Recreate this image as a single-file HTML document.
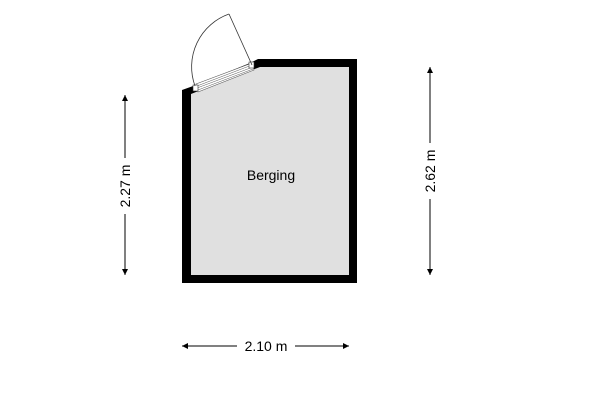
<!DOCTYPE html>
<html><head><style>html,body{margin:0;background:#fff}</style></head><body>
<svg width="600" height="400" viewBox="0 0 600 400" xmlns="http://www.w3.org/2000/svg" font-family="Liberation Sans, sans-serif">
<defs><marker id="a" viewBox="0 0 10 10" refX="10" refY="5" markerWidth="8" markerHeight="6" orient="auto-start-reverse" markerUnits="userSpaceOnUse"><path d="M0,0L10,5L0,10z" fill="#000"/></marker></defs>
<polygon points="182,283 357,283 357,59 258,59 250,63 196,85 182,90" fill="#000"/>
<polygon points="191,275 349,275 349,67 260,67 252,70 196,92 191,94" fill="#e0e0e0"/>
<polygon points="196,84 252,63 254,70 198,92" fill="#fff" stroke="#555" stroke-width="0.6"/>
<line x1="197" y1="86" x2="252" y2="65" stroke="#555" stroke-width="0.5"/>
<line x1="197" y1="88" x2="253" y2="67" stroke="#555" stroke-width="0.5"/>
<line x1="198" y1="90" x2="253" y2="69" stroke="#555" stroke-width="0.5"/>
<rect x="193" y="85" width="5" height="6" fill="#fff" stroke="#333" stroke-width="0.6"/>
<rect x="249" y="62" width="5" height="6" fill="#fff" stroke="#333" stroke-width="0.6"/>
<line x1="252" y1="65" x2="229" y2="14" stroke="#333" stroke-width="0.8"/>
<path d="M229,14 A56,56 0 0 0 195,86" fill="none" stroke="#333" stroke-width="0.8"/>
<text x="271" y="180" font-size="14" text-anchor="middle">Berging</text>
<line x1="125" y1="95" x2="125" y2="158" stroke="#000" marker-start="url(#a)"/>
<line x1="125" y1="214" x2="125" y2="275" stroke="#000" marker-end="url(#a)"/>
<text transform="translate(130,186) rotate(-90)" font-size="14" text-anchor="middle">2.27 m</text>
<line x1="430" y1="67" x2="430" y2="143" stroke="#000" marker-start="url(#a)"/>
<line x1="430" y1="199" x2="430" y2="275" stroke="#000" marker-end="url(#a)"/>
<text transform="translate(435,171) rotate(-90)" font-size="14" text-anchor="middle">2.62 m</text>
<line x1="182" y1="346" x2="237" y2="346" stroke="#000" marker-start="url(#a)"/>
<line x1="295" y1="346" x2="349" y2="346" stroke="#000" marker-end="url(#a)"/>
<text x="266" y="351" font-size="14" text-anchor="middle">2.10 m</text>
</svg>
</body></html>
